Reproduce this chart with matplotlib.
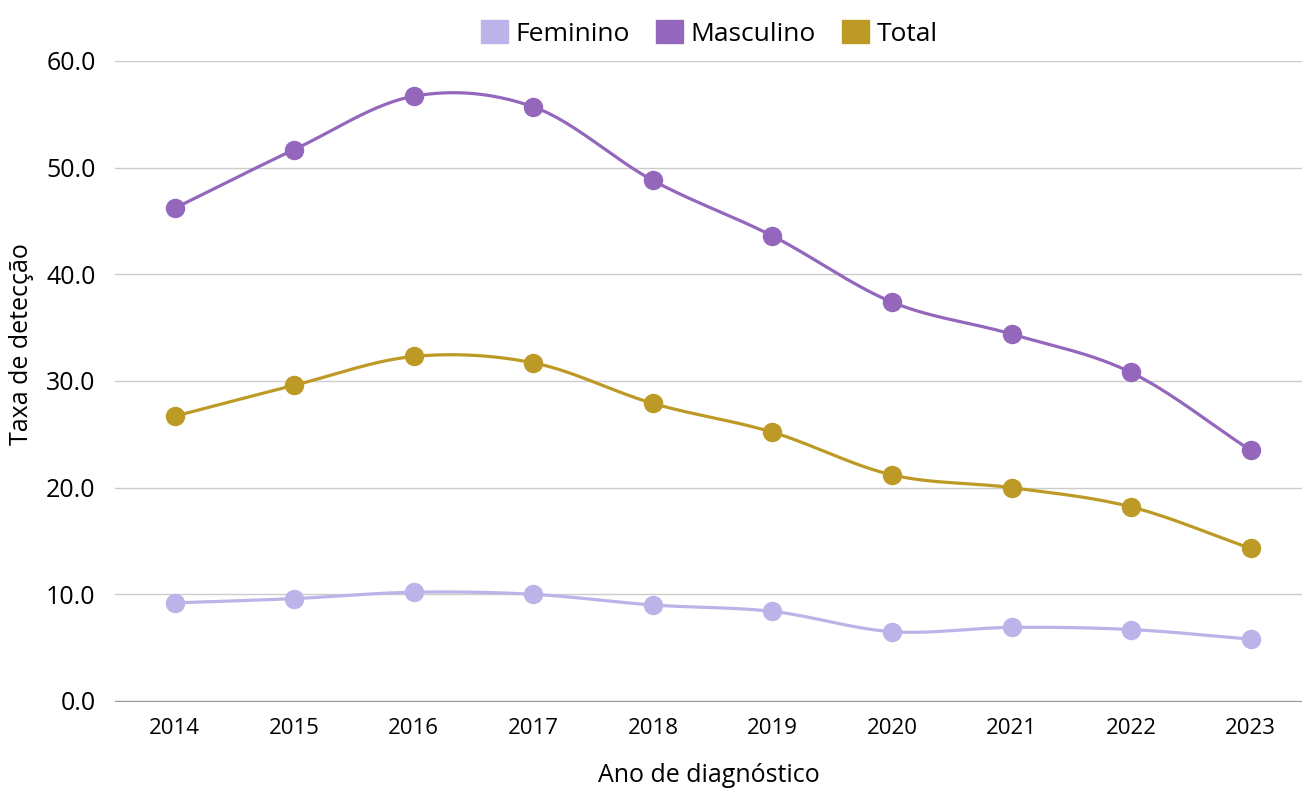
import numpy as np
import matplotlib
matplotlib.use("Agg")
import matplotlib.pyplot as plt
from matplotlib.patches import Patch

years = [2014, 2015, 2016, 2017, 2018, 2019, 2020, 2021, 2022, 2023]
feminino = [9.2, 9.6, 10.2, 10.0, 9.0, 8.4, 6.5, 6.9, 6.7, 5.8]
masculino = [46.2, 51.7, 56.7, 55.7, 48.8, 43.6, 37.4, 34.4, 30.8, 23.5]
total = [26.7, 29.6, 32.3, 31.7, 27.9, 25.2, 21.2, 20.0, 18.2, 14.3]

series = [("Feminino", feminino, "#bdb3e8"),
          ("Masculino", masculino, "#9467bd"),
          ("Total", total, "#bd9a25")]


def smooth(x, y, n=30):
    # catmull-rom curve through the points
    x = np.asarray(x, float)
    y = np.asarray(y, float)
    px = np.concatenate([[2 * x[0] - x[1]], x, [2 * x[-1] - x[-2]]])
    py = np.concatenate([[2 * y[0] - y[1]], y, [2 * y[-1] - y[-2]]])
    xs, ys = [], []
    t = np.linspace(0, 1, n)
    for i in range(1, len(px) - 2):
        for p, out in ((px, xs), (py, ys)):
            p0, p1, p2, p3 = p[i - 1], p[i], p[i + 1], p[i + 2]
            out.extend(0.5 * ((2 * p1) + (-p0 + p2) * t
                              + (2 * p0 - 5 * p1 + 4 * p2 - p3) * t ** 2
                              + (-p0 + 3 * p1 - 3 * p2 + p3) * t ** 3))
    return xs, ys


plt.rcParams['font.family'] = ['Open Sans', 'DejaVu Sans']

fig = plt.figure(figsize=(13.02, 7.91), dpi=100)
ax = fig.add_axes([115 / 1302, 90 / 791, (1302 - 115) / 1302, 640 / 791])

for name, vals, color in series:
    sx, sy = smooth(years, vals)
    ax.plot(sx, sy, color=color, lw=2.3, zorder=3)
    ax.plot(years, vals, 'o', color=color, markersize=13, zorder=4)

ax.set_xlim(2013.5, 2023.43)
ax.set_ylim(0, 60)
ax.set_yticks(np.arange(0, 61, 10))
ax.set_yticklabels([f"{v:.1f}" for v in np.arange(0, 61, 10)], fontsize=18)
ax.set_xticks(years)
ax.set_xticklabels([str(y) for y in years], fontsize=16)
ax.tick_params(length=0)
ax.tick_params(axis='x', pad=12)
ax.tick_params(axis='y', pad=14)
ax.grid(axis='y', color='#cccccc', lw=1)
ax.set_axisbelow(True)
for s in ['top', 'right', 'left']:
    ax.spines[s].set_visible(False)
ax.spines['bottom'].set_color('#999999')

ax.set_xlabel("Ano de diagnóstico", fontsize=18)
ax.xaxis.set_label_coords(0.5, -0.097)
ax.set_ylabel("Taxa de detecção", fontsize=18)
ax.yaxis.set_label_coords(-0.068, 0.557)

handles = [Patch(color=c, label=n) for n, _, c in series]
fig.legend(handles=handles, loc='upper center', bbox_to_anchor=(0.545, 1.005),
           ncol=3, frameon=False, fontsize=19, handlelength=1.0,
           handleheight=1.0, handletextpad=0.3, columnspacing=1.0)

fig.savefig("out.png", dpi=100)
